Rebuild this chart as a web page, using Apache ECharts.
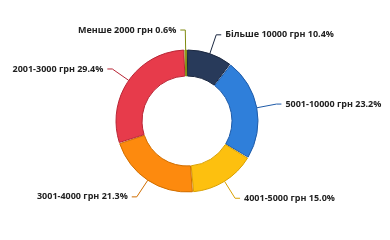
<!DOCTYPE html>
<html><head><meta charset="utf-8">
<script src="https://cdn.jsdelivr.net/npm/echarts@6/dist/echarts.min.js"></script>
<style>html,body{margin:0;padding:0;background:#fff}#c{width:390px;height:240px}</style>
</head><body><div id="c"></div>
<script>
const categories = ['Більше 10000 грн','5001-10000 грн','4001-5000 грн','3001-4000 грн','2001-3000 грн','Менше 2000 грн'];
const values = [10.4, 23.2, 15.0, 21.3, 29.4, 0.6];
const colors = ['#283A5A','#2F7FDA','#FDC00F','#FD8A0E','#E73B4B','#A6B521'];
const borders = ['#1A2740','#1F5BA8','#D9A000','#D06E00','#B82535','#7F8A10'];
const chart = echarts.init(document.getElementById('c'));
chart.setOption({
  animation:false,
  series:[{
    type:'pie',
    center:[187,121],
    radius:[45,71],
    startAngle:90,
    clockwise:true,
    padAngle:1,
    avoidLabelOverlap:false,
    data: categories.map((n,i)=>({name:n,value:values[i],
      itemStyle:{color:colors[i],borderColor:borders[i],borderWidth:1},
      labelLine:{lineStyle:{color:borders[i]}}})),
    label:{formatter:p=>p.name+' '+values[p.dataIndex].toFixed(1)+'%',fontFamily:'Open Sans',fontWeight:'bold',fontSize:9,color:'#222',distanceToLabelLine:4},
    labelLine:{length:20,length2:5,lineStyle:{width:1}}
  }]
});
</script></body></html>
